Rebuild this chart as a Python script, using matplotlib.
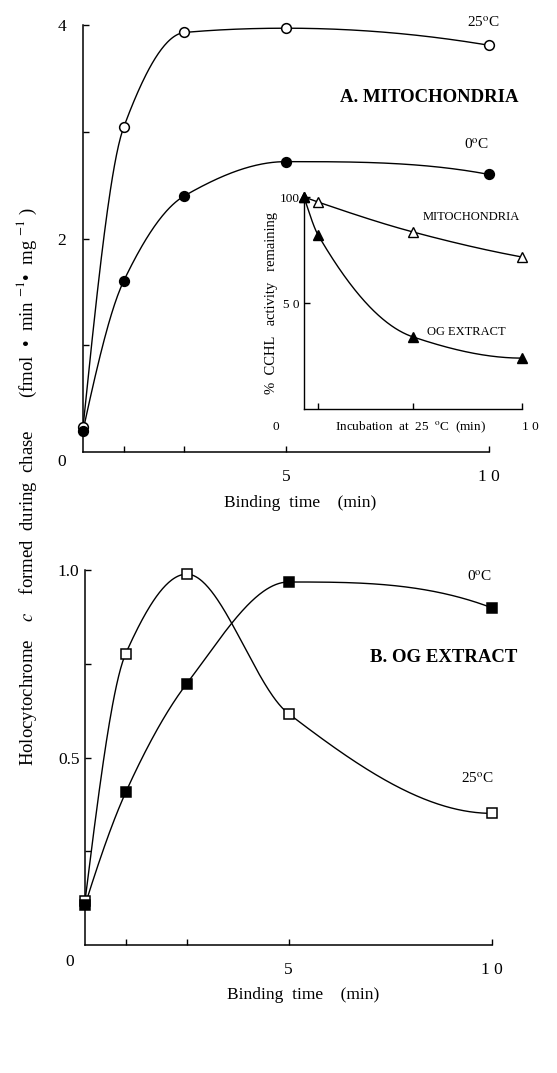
import numpy as np
import matplotlib
matplotlib.use("Agg")
import matplotlib.pyplot as plt

plt.rcParams["font.family"] = ["Liberation Serif", "DejaVu Serif"]
plt.rcParams["mathtext.fontset"] = "stix"

# binding time (min)
TIME = [0, 1, 2.5, 5, 10]
# A. mitochondria, fmol/min/mg
MITO_25C = [0.23, 3.04, 3.93, 3.97, 3.81]
MITO_0C = [0.20, 1.60, 2.40, 2.72, 2.60]
# B. OG extract
OG_25C = [0.117, 0.777, 0.989, 0.617, 0.351]
OG_0C = [0.106, 0.407, 0.697, 0.968, 0.899]
# inset: % CCHL activity remaining after incubation at 25 C
INC_TIME = [0, 0.65, 5, 10]
INC_MITO = [100, 97.6, 83.5, 71.7]
INC_OG = [100, 82, 34, 24]

W, H = 557, 1073
DEG = r"$^{\mathrm{o}}$"


def end_slope(h0, h1, d0, d1):
    m = ((2 * h0 + h1) * d0 - h0 * d1) / (h0 + h1)
    if np.sign(m) != np.sign(d0):
        return 0.0
    if np.sign(d0) != np.sign(d1) and abs(m) > 3 * abs(d0):
        return 3 * d0
    return m


def smooth(x, y, n=400):
    # monotone cubic (Fritsch-Carlson) curve through the measured points
    x = np.asarray(x, float)
    y = np.asarray(y, float)
    h = np.diff(x)
    d = np.diff(y) / h
    k = len(x)
    m = np.zeros(k)
    for i in range(1, k - 1):
        if d[i - 1] * d[i] > 0:
            w1 = 2 * h[i] + h[i - 1]
            w2 = h[i] + 2 * h[i - 1]
            m[i] = (w1 + w2) / (w1 / d[i - 1] + w2 / d[i])
    m[0] = end_slope(h[0], h[1], d[0], d[1])
    m[-1] = end_slope(h[-1], h[-2], d[-1], d[-2])
    t = np.linspace(x[0], x[-1], n)
    idx = np.clip(np.searchsorted(x, t) - 1, 0, k - 2)
    hh = h[idx]
    u = (t - x[idx]) / hh
    h00 = 2 * u ** 3 - 3 * u ** 2 + 1
    h10 = u ** 3 - 2 * u ** 2 + u
    h01 = -2 * u ** 3 + 3 * u ** 2
    h11 = u ** 3 - u ** 2
    s = h00 * y[idx] + h10 * hh * m[idx] + h01 * y[idx + 1] + h11 * hh * m[idx + 1]
    return t, s


def style(ax, lw=1.1):
    for side in ("top", "right"):
        ax.spines[side].set_visible(False)
    for side in ("left", "bottom"):
        ax.spines[side].set_linewidth(lw)
    ax.tick_params(direction="in", length=4, width=1, colors="black")


def ftext(x, y, s, **kw):
    fig.text(x / W, 1 - y / H, s, **kw)


fig = plt.figure(figsize=(W / 100, H / 100), dpi=100)

# ---- panel A ----
ax1 = fig.add_axes([83 / W, 1 - 452 / H, (489 - 83) / W, (452 - 25) / H])
style(ax1)
for ys, face in ((MITO_25C, "white"), (MITO_0C, "black")):
    t, s = smooth(TIME, ys)
    ax1.plot(t, s, color="black", lw=1.0)
    ax1.plot(TIME, ys, "o", ms=7, mfc=face, mec="black", mew=1.1, clip_on=False, zorder=3)
ax1.set_xlim(0, 10)
ax1.set_ylim(0, 4)
ax1.set_xticks([1, 2.5, 5, 10], ["", "", "5", "1 0"])
ax1.set_yticks([1, 2, 3, 4], ["", "2", "", "4"])
ax1.tick_params(axis="x", pad=12, labelsize=12.5)
ax1.tick_params(axis="y", pad=12, labelsize=12.5)

# ---- inset ----
ax3 = fig.add_axes([304 / W, 1 - 409 / H, (522 - 304) / W, (409 - 197) / H])
style(ax3, lw=1.0)
for ys, face in ((INC_MITO, "white"), (INC_OG, "black")):
    t, s = smooth(INC_TIME, ys)
    ax3.plot(t, s, color="black", lw=1.0)
    ax3.plot(INC_TIME, ys, "^", ms=6.5, mfc=face, mec="black", mew=1.0, clip_on=False, zorder=3)
ax3.set_xlim(0, 10)
ax3.set_ylim(0, 100)
ax3.set_xticks([0.65, 5, 10], ["", "", ""])
ax3.set_yticks([50, 100], ["5 0", "100"])
ax3.tick_params(axis="y", pad=3, labelsize=9.5)
ax3.set_ylabel("%  CCHL   activity   remaining", fontsize=10.5, labelpad=1)

# ---- panel B ----
ax2 = fig.add_axes([85 / W, 1 - 945 / H, (492 - 85) / W, (945 - 570) / H])
style(ax2)
for ys, face in ((OG_25C, "white"), (OG_0C, "black")):
    t, s = smooth(TIME, ys)
    ax2.plot(t, s, color="black", lw=1.0)
    ax2.plot(TIME, ys, "s", ms=6.5, mfc=face, mec="black", mew=1.1, clip_on=False, zorder=3)
ax2.set_xlim(0, 10)
ax2.set_ylim(0, 1.0)
ax2.set_xticks([1, 2.5, 5, 10], ["", "", "5", "1 0"])
ax2.set_yticks([0.25, 0.5, 0.75, 1.0], ["", "0.5", "", "1.0"])
ax2.tick_params(axis="x", pad=12, labelsize=12.5)
ax2.tick_params(axis="y", pad=4, labelsize=12.5)

# ---- texts ----
ftext(483, 23, "25" + DEG + "C", fontsize=11, ha="center", va="center")
ftext(340, 97, "A. MITOCHONDRIA", fontsize=13.5, fontweight="bold", ha="left", va="center")
ftext(477, 145, "0" + DEG + "C", fontsize=11, ha="center", va="center")
ftext(423, 217, "MITOCHONDRIA", fontsize=9, ha="left", va="center")
ftext(427, 332, "OG EXTRACT", fontsize=9, ha="left", va="center")
ftext(276, 427, "0", fontsize=9.5, ha="center", va="center")
ftext(411, 427, "Incubation  at  25  " + DEG + "C  (min)", fontsize=9.5, ha="center", va="center")
ftext(530, 427, "1 0", fontsize=9.5, ha="center", va="center")
ftext(62, 462, "0", fontsize=12.5, ha="center", va="center")
ftext(300, 503, "Binding  time    (min)", fontsize=12.5, ha="center", va="center")

ftext(480, 577, "0" + DEG + "C", fontsize=11, ha="center", va="center")
ftext(370, 658, "B. OG EXTRACT", fontsize=13.5, fontweight="bold", ha="left", va="center")
ftext(477, 779, "25" + DEG + "C", fontsize=11, ha="center", va="center")
ftext(70, 962, "0", fontsize=12.5, ha="center", va="center")
ftext(303, 995, "Binding  time    (min)", fontsize=12.5, ha="center", va="center")

ftext(27, 486,
      r"Holocytochrome    $c$    formed  during  chase       (fmol  •  min $^{-1}$•  mg $^{-1}$ )",
      fontsize=13.5, rotation=90, ha="center", va="center")

fig.savefig("out.png", dpi=100)
